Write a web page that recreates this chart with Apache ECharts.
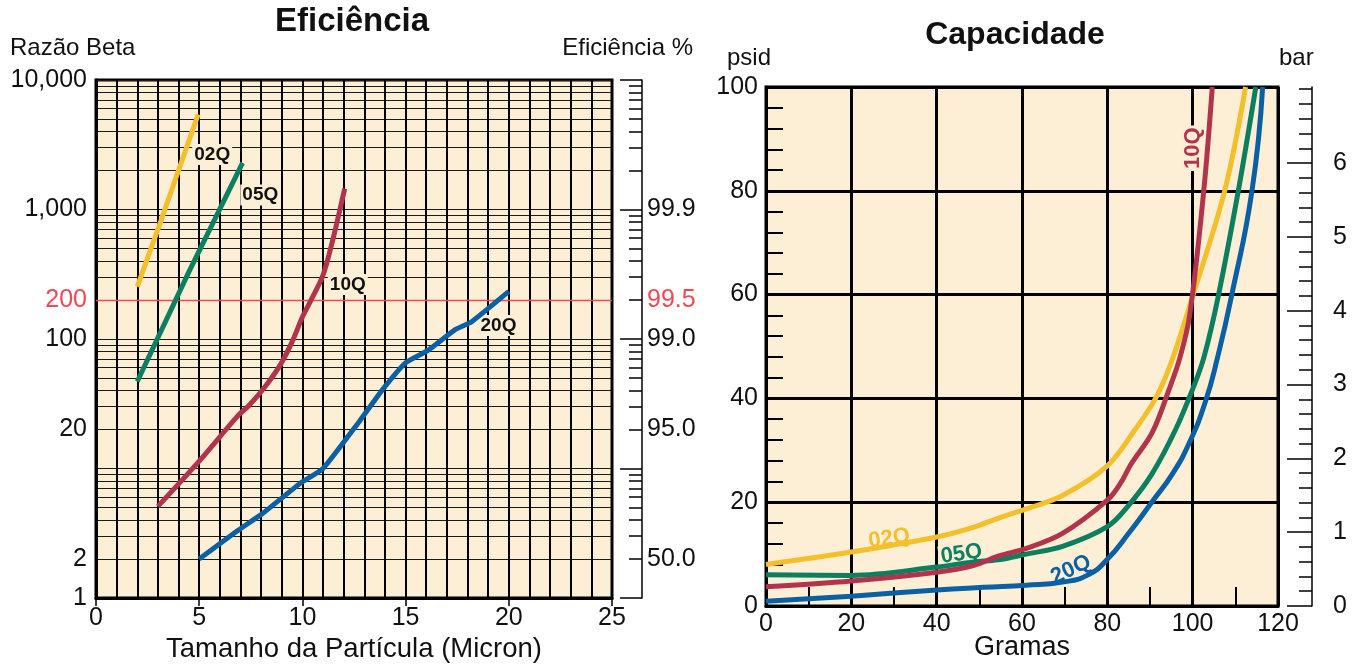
<!DOCTYPE html>
<html><head><meta charset="utf-8">
<script src="https://cdn.jsdelivr.net/npm/echarts@6/dist/echarts.min.js"></script>
<style>html,body{margin:0;padding:0;background:#fff}#c{width:1363px;height:665px}</style>
</head><body><div id="c"></div>
<script>
const FONT = "'Liberation Sans', Arial, Helvetica, sans-serif";

// ---------- Eficiência (Razão Beta vs Tamanho da Partícula) ----------
const eff02Q = [[2, 254], [3.05, 741], [4.95, 5420]];
const eff05Q = [[2, 47], [4.5, 330], [7.1, 2290]];
const eff10Q = [[3, 5.1], [5, 11.4], [6.9, 25.8], [7.4, 30.5], [8.2, 43], [8.95, 64], [9.5, 95], [10, 148], [10.4, 197], [11, 311], [11.47, 581], [11.8, 970], [12.05, 1450]];
const eff20Q = [[5, 2.0], [6.85, 3.3], [8.15, 4.6], [9.85, 7.6], [11, 10], [12.75, 23], [13.9, 41], [15, 65.5], [16.1, 82], [17.4, 118], [18.2, 136], [20, 233]];
const effLabelPos = { '02Q': [5.63, 2655], '05Q': [7.96, 1294], '10Q': [12.2, 263], '20Q': [19.5, 127] };
const betaRef = 200;
const betaTicks = [1, 2, 20, 100, 200, 1000, 10000];
const betaLabels = ['1', '2', '20', '100', '200', '1,000', '10,000'];
const effTicks = [2, 20, 100, 200, 1000];
const effLabels = ['50.0', '95.0', '99.0', '99.5', '99.9'];
const betaDecades = [1, 10, 100, 1000, 10000];

// ---------- Capacidade (psid vs Gramas) ----------
const cap02Q = [[0, 8], [20, 10.4], [40, 13.3], [48, 15], [54.4, 16.9], [61, 18.7], [69.5, 21.3], [80, 27], [86.5, 34], [91.3, 40], [95, 47], [100, 59.7], [107.5, 80], [112.4, 100]];
const cap05Q = [[0, 6], [20, 5.9], [40, 7.5], [48.6, 8.5], [54.4, 8.9], [61, 10], [69.5, 11.5], [80, 15.3], [85, 19.4], [90.5, 25.5], [96, 34], [100, 41.8], [102.6, 47.8], [106, 59.7], [110.7, 80], [114.8, 100]];
const cap10Q = [[0, 3.7], [20, 4.8], [40, 6.5], [48.6, 7.8], [54.4, 9.6], [61, 11.1], [69.5, 14], [80, 20.4], [83.2, 23.8], [85.6, 27.4], [90.5, 33.4], [94.5, 41.8], [97, 47.8], [99.3, 56], [102.6, 80], [104.6, 100]];
const cap20Q = [[0, 0.9], [20, 1.9], [40, 3.1], [51, 3.6], [61, 4.0], [69.5, 4.6], [75.5, 6.0], [80, 9.0], [85, 14], [90.5, 20.1], [95.3, 25.5], [99.3, 31.6], [103, 39.4], [105.8, 47.8], [109.1, 59.7], [113.9, 80], [116.4, 100]];
const capLabelPos = { '02Q': [28.9, 13.0], '05Q': [45.8, 10.0], '20Q': [71.5, 7.0], '10Q': [100, 88.2] };
const capLabelRot = { '02Q': 8, '05Q': 8, '20Q': 25, '10Q': 90 };
const barMajor = [0, 1, 2, 3, 4, 5, 6];
const barAxisTop = 7.03;   // bar scale value at the top edge of the plot, as drawn

const COL = { '02Q': '#f3bf2b', '05Q': '#0b7f60', '10Q': '#b2344c', '20Q': '#0b60a3' };
const CREAM = '#fdefd5';

const gridBeta = [];
betaDecades.slice(0, 4).forEach(d => { for (let k = 1; k < 10; k++) gridBeta.push(d * k); });
gridBeta.push(10000);
const minorBeta = gridBeta.filter(v => betaDecades.indexOf(v) < 0);
const barMinor = [];
for (let i = 1; i <= 35; i++) { if (i % 5) barMinor.push(+(i * 0.2).toFixed(1)); }
barMinor.push(7);

const txt = (s, x, y, size, align, bold) => ({
  type: 'text', x: x, y: y, silent: true,
  style: { text: s, fill: '#111', font: (bold ? 'bold ' : '') + size + 'px ' + FONT,
    align: align, textAlign: align, verticalAlign: 'middle', textVerticalAlign: 'middle' }
});

function effLine(name, data, smooth) {
  return {
    name: 'eff' + name, type: 'line', xAxisIndex: 0, yAxisIndex: 0, data: data,
    symbol: 'none', smooth: smooth, lineStyle: { color: COL[name], width: 5 }, z: 5,
    markPoint: {
      symbol: 'rect', symbolSize: 1, itemStyle: { color: 'transparent' }, silent: true,
      label: { show: true, position: 'inside', formatter: name, fontFamily: FONT, fontWeight: 'bold',
        fontSize: 19, color: '#111', backgroundColor: CREAM, padding: [1, 2] },
      data: [{ coord: effLabelPos[name] }]
    }
  };
}
function capLine(name, data, smooth) {
  return {
    name: 'cap' + name, type: 'line', xAxisIndex: 1, yAxisIndex: 3, data: data,
    symbol: 'none', smooth: smooth, lineStyle: { color: COL[name], width: 5 }, z: 5,
    markPoint: {
      symbol: 'rect', symbolSize: 1, itemStyle: { color: 'transparent' }, silent: true,
      label: { show: true, position: 'inside', formatter: name, fontFamily: FONT, fontWeight: 'bold',
        fontSize: 22, color: COL[name], backgroundColor: CREAM, padding: [0, 2], rotate: capLabelRot[name] },
      data: [{ coord: capLabelPos[name] }]
    }
  };
}

const lblStyle = { fontFamily: FONT, fontSize: 25, color: '#111' };
const blackLine = w => ({ show: true, lineStyle: { color: '#000', width: w } });

const series = [
  effLine('02Q', eff02Q, false),
  effLine('05Q', eff05Q, false),
  effLine('10Q', eff10Q, 0.3),
  effLine('20Q', eff20Q, 0.15),
  capLine('02Q', cap02Q, 0.35), capLine('05Q', cap05Q, 0.35), capLine('10Q', cap10Q, 0.35), capLine('20Q', cap20Q, 0.5)
];
series[3].markLine = {
  silent: true, symbol: 'none', label: { show: false },
  lineStyle: { color: '#ee4a55', width: 1.3, type: 'solid' },
  data: [{ yAxis: betaRef }]
};

const option = {
  animation: false,
  textStyle: { fontFamily: FONT },
  grid: [
    { left: 96, top: 80, width: 516, height: 518, show: true, backgroundColor: CREAM, borderColor: '#000', borderWidth: 3, outerBoundsMode: 'none', containLabel: false },
    { left: 766, top: 87, width: 512, height: 519, show: true, backgroundColor: CREAM, borderColor: '#000', borderWidth: 3, outerBoundsMode: 'none', containLabel: false }
  ],
  xAxis: [
    { gridIndex: 0, type: 'value', min: 0, max: 25, interval: 5,
      axisLine: blackLine(3), axisTick: { show: true, length: 8, lineStyle: { color: '#000', width: 1.5 } },
      minorTick: { show: false, splitNumber: 5 },
      splitLine: { show: true, lineStyle: { color: '#000', width: 2 } },
      minorSplitLine: { show: true, lineStyle: { color: '#000', width: 2 } },
      axisLabel: Object.assign({ margin: 8 }, lblStyle),
      name: 'Tamanho da Partícula (Micron)', nameLocation: 'middle', nameGap: 36,
      nameTextStyle: { fontFamily: FONT, fontSize: 27.5, color: '#111' } },
    { gridIndex: 1, type: 'value', min: 0, max: 120, interval: 20,
      axisLine: blackLine(3), axisTick: { show: true, inside: true, length: 19, lineStyle: { color: '#000', width: 2 } },
      minorTick: { show: true, splitNumber: 2, length: 19, lineStyle: { color: '#000', width: 2 } },
      splitLine: { show: true, lineStyle: { color: '#000', width: 3 } },
      axisLabel: Object.assign({ margin: 6 }, lblStyle),
      name: 'Gramas', nameLocation: 'middle', nameGap: 28, nameMoveOverlap: false,
      nameTextStyle: { fontFamily: FONT, fontSize: 27, color: '#111' } }
  ],
  yAxis: [
    { gridIndex: 0, type: 'log', logBase: 10, min: 1, max: 10000,
      axisLine: blackLine(3), axisTick: { show: false, customValues: gridBeta },
      splitLine: { show: true, lineStyle: { color: '#1a1a1a', width: 1.2 } },
      axisLabel: Object.assign({ margin: 9, customValues: betaTicks,
        formatter: v => { const i = betaTicks.indexOf(v); const s = i >= 0 ? betaLabels[i] : ''; return v === betaRef ? '{r|' + s + '}' : s; },
        rich: { r: { color: '#ee4a55', fontSize: 25, fontFamily: FONT } } }, lblStyle) },
    { gridIndex: 0, type: 'log', logBase: 10, min: 1, max: 10000, position: 'right', offset: 30,
      axisLine: blackLine(1.5),
      axisTick: { show: true, inside: true, length: 22, customValues: betaDecades, lineStyle: { color: '#000', width: 1.5 } },
      splitLine: { show: false },
      axisLabel: Object.assign({ margin: 5, customValues: effTicks,
        formatter: v => { const i = effTicks.indexOf(v); const s = i >= 0 ? effLabels[i] : ''; return v === betaRef ? '{r|' + s + '}' : s; },
        rich: { r: { color: '#ee4a55', fontSize: 25, fontFamily: FONT } } }, lblStyle) },
    { gridIndex: 0, type: 'log', logBase: 10, min: 1, max: 10000, position: 'right', offset: 30,
      axisLine: { show: false },
      axisTick: { show: true, inside: true, length: 13, customValues: minorBeta, lineStyle: { color: '#000', width: 1.5 } },
      splitLine: { show: false }, axisLabel: { show: false } },
    { gridIndex: 1, type: 'value', min: 0, max: 100, interval: 20,
      axisLine: blackLine(3),
      axisTick: { show: true, inside: true, length: 17, lineStyle: { color: '#000', width: 2 } },
      minorTick: { show: true, splitNumber: 5, length: 17, lineStyle: { color: '#000', width: 2 } },
      splitLine: { show: true, lineStyle: { color: '#000', width: 3 } },
      axisLabel: Object.assign({ margin: 8 }, lblStyle) },
    { gridIndex: 1, type: 'value', min: 0, max: barAxisTop, position: 'right', offset: 34,
      axisLine: blackLine(1.5),
      axisTick: { show: true, inside: true, length: 25, customValues: barMajor, lineStyle: { color: '#000', width: 1.5 } },
      splitLine: { show: false },
      axisLabel: Object.assign({ margin: 21, customValues: barMajor, formatter: v => String(v) }, lblStyle) },
    { gridIndex: 1, type: 'value', min: 0, max: barAxisTop, position: 'right', offset: 34,
      axisLine: { show: false },
      axisTick: { show: true, inside: true, length: 13, customValues: barMinor, lineStyle: { color: '#000', width: 1.5 } },
      splitLine: { show: false }, axisLabel: { show: false } }
  ],
  graphic: [
    txt('Eficiência', 352, 22, 33, 'center', true),
    txt('Capacidade', 1015, 35, 32, 'center', true),
    txt('Razão Beta', 10, 48, 24, 'left', false),
    txt('Eficiência %', 693, 48, 24, 'right', false),
    txt('psid', 727, 58, 24, 'left', false),
    txt('bar', 1279, 58, 24, 'left', false)
  ],
  series: series
};

const chart = echarts.init(document.getElementById('c'), null, { renderer: 'canvas' });
chart.setOption(option);
</script>
</body></html>
